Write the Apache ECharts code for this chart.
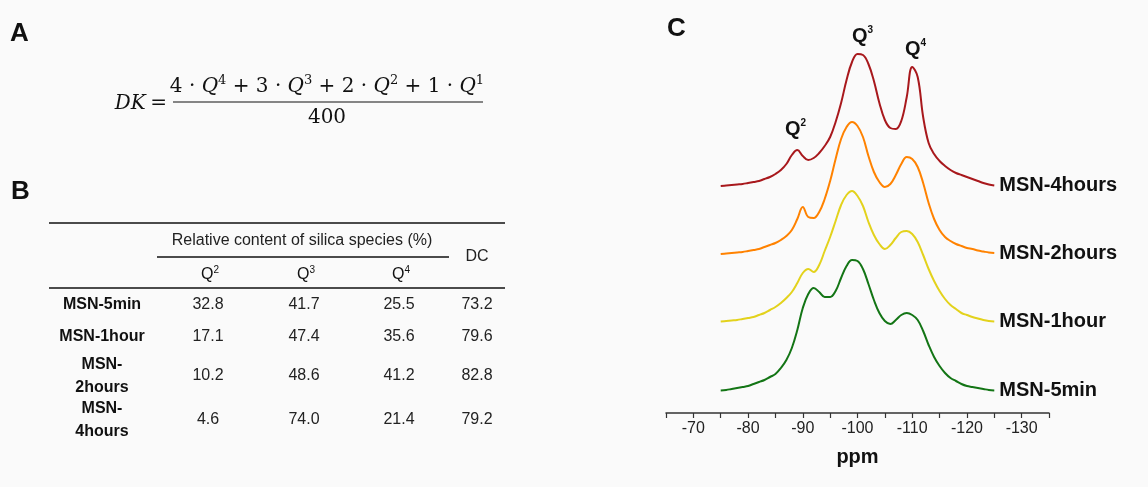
<!DOCTYPE html>
<html>
<head>
<meta charset="utf-8">
<script src="https://cdn.jsdelivr.net/npm/echarts@6/dist/echarts.min.js"></script>
<style>
  html, body { margin: 0; padding: 0; background: #fafafa; }
  #main { width: 1148px; height: 487px; }
</style>
</head>
<body>
<div id="main"></div>
<script>
// chemical shift sampling (ppm)
var ppm = [-75,-76,-77,-78,-79,-80,-81,-82,-83,-84,-85,-86,-87,-88,-89,-90,-91,-92,-93,-94,-95,
  -96,-97,-98,-99,-100,-101,-102,-103,-104,-105,-106,-107,-108,-109,-110,-111,-112,-113,-114,-115,
  -116,-117,-118,-119,-120,-121,-122,-123,-124,-125];

// spectra intensities (a.u.)
var msn4h = [1,1.5,2,2.5,3,4,5,6,8,10,13,17,23,32,37,31,27,29,34,41,50,
  65,84,107,125,133,132,123,106,84,67,59,58,66,90,120,110,70,44,33,26,
  21,17,14,12,10,8,6,4,2.5,1.5];
var msn2h = [1,1.5,2,2.5,3,4,5,6,8,10,12,15,19,25,36,48,38,37,43,56,74,
  96,116,128,133,129,118,99,83,73,68,71,80,91,98,96,88,72,52,36,25,
  18,14,11,9,7,6,4.5,3.5,2.5,2];
var msn1h = [1.5,2,2.5,3,4,5,6,8,10,13,16,20,25,31,40,50,54,51,58,72,86,
  102,118,128,132,127,117,101,88,79,74,78,85,91,92,89,81,68,54,42,32,
  24,18,14,10,8,6,4.5,3,2,1.5];
var msn5m = [1.5,2,3,4,5,6,8,10,12,15,18,24,32,44,62,84,98,104,100,95,95,
  101,114,126,132,131,123,108,92,79,71,68,72,77,79,77,72,61,47,35,26,
  19,14,11,8,6,5,4,3,2,1.5];

var sampleNames = ['MSN-4hours', 'MSN-2hours', 'MSN-1hour', 'MSN-5min'];
var xTicks = [-135, -65];

// table B
var rowNames = ['MSN-5min', 'MSN-1hour', 'MSN-\n2hours', 'MSN-\n4hours'];
var q2Vals = [32.8, 17.1, 10.2, 4.6];
var q3Vals = [41.7, 47.4, 48.6, 74.0];
var q4Vals = [25.5, 35.6, 41.2, 21.4];
var dcVals = [73.2, 79.6, 82.8, 79.2];

var chart = echarts.init(document.getElementById('main'));

var spectra = [msn4h, msn2h, msn1h, msn5m];
var colors = ['#a8181c', '#ff8200', '#e3d21c', '#137515'];
var baselines = [187, 255, 323, 392];
var sans = 'Liberation Sans, Arial, sans-serif';
var serif = 'DejaVu Serif, Liberation Serif, serif';

var grids = [], xAxes = [], yAxes = [], series = [];
spectra.forEach(function (vals, i) {
  var bottom = i === spectra.length - 1;
  // bottom panel extends below its baseline so the ppm axis sits lower
  grids.push({ left: 666, width: 383, top: baselines[i] - 160, height: bottom ? 181 : 160 });
  xAxes.push({
    gridIndex: i, type: 'value', position: 'bottom', min: xTicks[0], max: xTicks[1], interval: 5, inverse: true,
    show: bottom,
    name: bottom ? 'ppm' : '', nameLocation: 'middle', nameGap: 34,
    nameTextStyle: { fontFamily: sans, fontWeight: 'bold', fontSize: 20, color: '#111' },
    axisLine: { onZero: false, lineStyle: { color: '#333', width: 1.5 } },
    axisTick: { inside: false, length: 5, lineStyle: { color: '#333', width: 1.2 } },
    axisLabel: {
      inside: false, margin: 8, fontFamily: sans, fontSize: 16, color: '#222',
      formatter: function (v) { return v % 10 === 0 ? String(v) : ''; }
    },
    splitLine: { show: false }
  });
  yAxes.push({ gridIndex: i, type: 'value', min: bottom ? -21 : 0, max: 160, show: false });
  series.push({
    name: sampleNames[i], type: 'line', xAxisIndex: i, yAxisIndex: i,
    data: ppm.map(function (p, k) { return [p, vals[k]]; }),
    smooth: 0.4, symbol: 'none', silent: true,
    lineStyle: { color: colors[i], width: 2 }
  });
});

// graphic elements: letters, formula, table, peak labels
var g = [];
function txt(x, y, text, opts) {
  var s = Object.assign({
    x: x, y: y, text: text, fill: '#111', font: '16px ' + sans,
    align: 'center', verticalAlign: 'middle'
  }, opts || {});
  s.textAlign = s.align;
  s.textVerticalAlign = s.verticalAlign;
  g.push({ type: 'text', silent: true, style: s });
}
function line(x1, y1, x2, y2, w) {
  g.push({ type: 'line', silent: true, shape: { x1: x1, y1: y1, x2: x2, y2: y2 },
    style: { stroke: '#111', lineWidth: w || 1.5 } });
}

txt(10, 34, 'A', { font: 'bold 26px ' + sans, align: 'left' });
txt(11, 192, 'B', { font: 'bold 26px ' + sans, align: 'left' });
txt(667, 29, 'C', { font: 'bold 26px ' + sans, align: 'left' });

// formula A
var fRich = {
  n: { fontFamily: serif, fontSize: 20, lineHeight: 26, color: '#111' },
  q: { fontFamily: serif, fontStyle: 'italic', fontSize: 20, lineHeight: 26, color: '#111' },
  s: { fontFamily: serif, fontSize: 13, lineHeight: 14, verticalAlign: 'top', color: '#111' }
};
txt(167, 104, '{q|DK} {n|=}', { align: 'right', rich: fRich });
txt(327, 87, '{n|4 · }{q|Q}{s|4}{n| + 3 · }{q|Q}{s|3}{n| + 2 · }{q|Q}{s|2}{n| + 1 · }{q|Q}{s|1}', { rich: fRich });
line(173, 102, 483, 102, 1.2);
txt(327, 118, '{n|400}', { rich: fRich });

// table B
var colX = [208, 304, 399, 477];
var tRich = {
  t: { fontFamily: sans, fontSize: 16, lineHeight: 20, color: '#222' },
  s: { fontFamily: sans, fontSize: 10, lineHeight: 10, verticalAlign: 'top', color: '#222' }
};
line(49, 223, 505, 223);
txt(302, 241, 'Relative content of silica species (%)', { font: '16px ' + sans, fill: '#222' });
line(157, 257, 449, 257, 1.3);
txt(477, 257, 'DC', { font: '16px ' + sans, fill: '#222' });
['2', '3', '4'].forEach(function (n, i) {
  txt(colX[i] + 2, 275, '{t|Q}{s|' + n + '}', { rich: tRich });
});
line(49, 288, 505, 288);
var rowY = [305, 337, 376, 420];
rowNames.forEach(function (name, r) {
  txt(102, rowY[r], name, { font: 'bold 16px ' + sans, fill: '#111', lineHeight: 23 });
  [q2Vals, q3Vals, q4Vals, dcVals].forEach(function (col, c) {
    txt(colX[c], rowY[r], col[r].toFixed(1), { font: '16px ' + sans, fill: '#222' });
  });
});

// peak labels on C
var pRich = {
  q: { fontFamily: sans, fontWeight: 'bold', fontSize: 20, lineHeight: 22, color: '#111' },
  s: { fontFamily: sans, fontWeight: 'bold', fontSize: 10, lineHeight: 10, verticalAlign: 'top', color: '#111' }
};
txt(852, 36, '{q|Q}{s|3}', { align: 'left', rich: pRich });
txt(905, 49, '{q|Q}{s|4}', { align: 'left', rich: pRich });
txt(785, 129, '{q|Q}{s|2}', { align: 'left', rich: pRich });

chart.setOption({
  backgroundColor: '#fafafa',
  animation: false,
  grid: grids,
  xAxis: xAxes,
  yAxis: yAxes,
  series: series,
  graphic: g
});

// sample names at the right end of each spectrum
spectra.forEach(function (vals, i) {
  var last = vals.length - 1;
  var pt = chart.convertToPixel({ xAxisIndex: i, yAxisIndex: i }, [ppm[last], vals[last]]);
  txt(pt[0] + 5, pt[1], sampleNames[i], { font: 'bold 20px ' + sans, align: 'left' });
});
chart.setOption({ graphic: g });
</script>
</body>
</html>
